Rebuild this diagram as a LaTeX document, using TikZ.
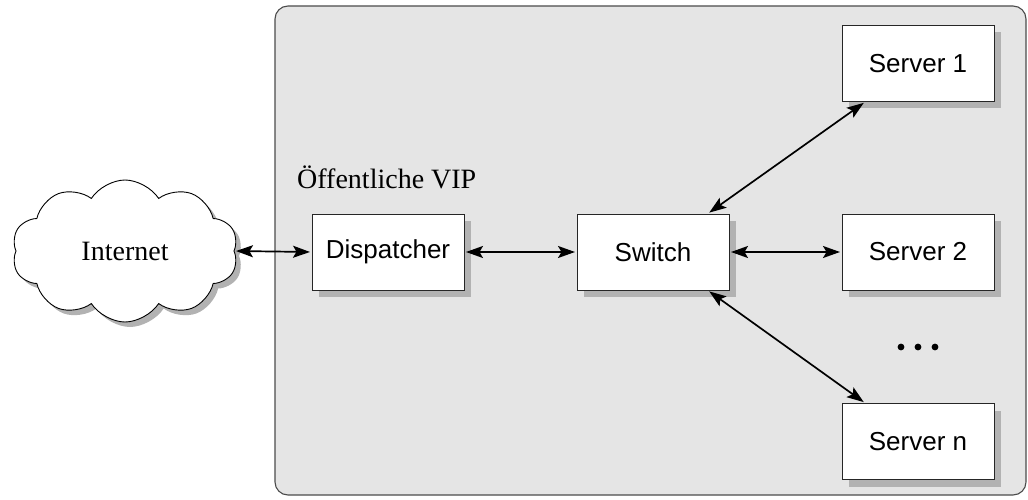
\documentclass[tikz,border=0pt]{standalone}
\usepackage{fontspec}
\setmainfont{Liberation Serif}
\setsansfont{Liberation Sans}
\usetikzlibrary{shapes.symbols,shadows,arrows.meta}

\begin{document}
\begin{tikzpicture}[x=1pt,y=-1pt,
  shade/.style={drop shadow={shadow xshift=7pt,shadow yshift=-7pt,opacity=1,fill=black!30}},
  box/.style={draw=black!85,line width=1pt,fill=white,minimum width=152pt,
    minimum height=76pt,inner sep=0pt,font=\sffamily\fontsize{26}{30}\selectfont,shade},
  tip/.tip={Stealth[length=17pt,width=12pt,inset=3.5pt]},
  link/.style={line width=1.7pt,shorten <=1.5pt,shorten >=1.5pt,tip-tip},
  serif/.style={font=\rmfamily\fontsize{28}{32}\selectfont}
]
\useasboundingbox (0,0) rectangle (1028,500);

% server room
\path[draw=black!70,fill=black!10,line width=1.1pt,rounded corners=13pt]
  (275,6) rectangle (1026,495);
\node[serif,anchor=base west,inner sep=0pt] (vip) at (297,188) {Öffentliche VIP};

% cloud
\node[cloud,cloud puffs=10,cloud puff arc=115,aspect=1.6,draw=black,line width=0.9pt,
  fill=white,minimum width=226pt,minimum height=142pt,inner sep=0pt,serif,
  drop shadow={shadow xshift=5pt,shadow yshift=-5pt,opacity=1,fill=black!30}]
  (inet) at (125,251) {Internet};

% boxes
\node[box] (disp) at (388,252) {Dispatcher};
\node[box] (sw)   at (653,252) {Switch};
\node[box] (s1)   at (918,63.5) {Server 1};
\node[box] (s2)   at (918,252) {Server 2};
\node[box] (sn)   at (918,441.5) {Server n};

% ellipsis
\foreach \x in {901,918,935} \fill (\x,347) circle (3.4pt);

% links
\draw[link] (inet.east) -- (disp.west);
\draw[link] (disp.east) -- (sw.west);
\draw[link] (sw.east) -- (s2.west);
\draw[link] (sw.35) -- (s1.216);
\draw[link] (sw.325) -- (sn.144);
\end{tikzpicture}
\end{document}
